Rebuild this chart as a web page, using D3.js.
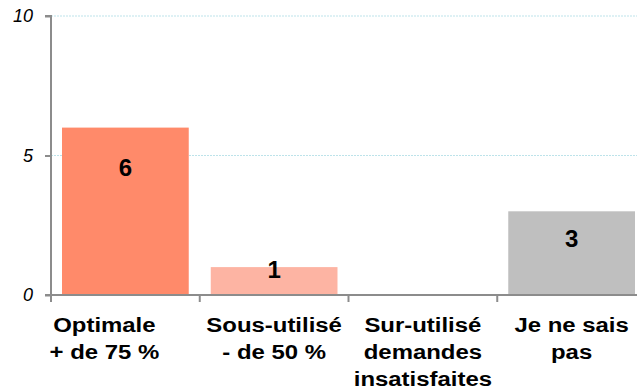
<!DOCTYPE html>
<html>
<head>
<meta charset="utf-8">
<script src="https://cdn.jsdelivr.net/npm/d3@7"></script>
<style>
  html, body { margin: 0; padding: 0; background: #fff; }
  svg { display: block; font-family: "Liberation Sans", Arial, sans-serif; }
</style>
</head>
<body>
<svg id="chart" width="637" height="390"></svg>
<script>
// Réponses par catégorie
const categories = [
  ["Optimale", "+ de 75 %"],
  ["Sous-utilisé", "- de 50 %"],
  ["Sur-utilisé", "demandes", "insatisfaites"],
  ["Je ne sais", "pas"]
];
const values = [6, 1, 0, 3];
const barColors = ["#FF8A6A", "#FDB4A3", "#FDB4A3", "#BFBFBF"];
const yTicks = [0, 5, 10];

const svg = d3.select("#chart");
const mLeft = 51, mRight = 646, mTop = 16, mBottom = 295;

const x = d3.scaleBand()
  .domain(d3.range(categories.length))
  .range([mLeft, mRight])
  .paddingInner(0.148)
  .paddingOuter(0.074);

const y = d3.scaleLinear().domain([0, 10]).range([mBottom, mTop]);

// Lignes de quadrillage
svg.append("g")
  .selectAll("line")
  .data(yTicks.filter(t => t > 0))
  .join("line")
  .attr("x1", mLeft).attr("x2", 637)
  .attr("y1", d => y(d)).attr("y2", d => y(d))
  .attr("stroke", "#BDE3EA")
  .attr("stroke-width", 1)
  .attr("stroke-dasharray", "2,1");

// Barres
svg.append("g")
  .selectAll("rect")
  .data(values)
  .join("rect")
  .attr("x", (d, i) => x(i))
  .attr("y", d => y(d))
  .attr("width", x.bandwidth())
  .attr("height", d => mBottom - y(d))
  .attr("fill", (d, i) => barColors[i]);

// Axe vertical
const yAxis = d3.axisLeft(y).tickValues(yTicks).tickSize(6).tickPadding(12);
const gy = svg.append("g").attr("transform", `translate(${mLeft},0)`).call(yAxis);
gy.select(".domain").attr("stroke", "#8C8C8C").attr("stroke-width", 2)
  .attr("d", `M-6,${mTop}H0V${mBottom}`);
gy.selectAll(".tick line").attr("stroke", "#8C8C8C").attr("stroke-width", 2);
gy.selectAll(".tick text")
  .attr("font-size", 18).attr("font-style", "italic")
  .attr("fill", "#000").attr("font-family", "Liberation Sans, Arial, sans-serif");

// Axe horizontal
const step = x.step();
const gx = svg.append("g");
gx.append("line")
  .attr("x1", mLeft - 6).attr("x2", 637)
  .attr("y1", mBottom).attr("y2", mBottom)
  .attr("stroke", "#8C8C8C").attr("stroke-width", 2);
gx.selectAll("line.tk")
  .data(d3.range(categories.length))
  .join("line")
  .attr("class", "tk")
  .attr("x1", i => x(i) - step * x.paddingInner() / 2)
  .attr("x2", i => x(i) - step * x.paddingInner() / 2)
  .attr("y1", mBottom).attr("y2", mBottom + 7)
  .attr("stroke", "#8C8C8C").attr("stroke-width", 2);

// Libellés de catégories (police large, étirée horizontalement ;
// le premier est décalé vers la gauche)
const labelShift = [-21, 0, 0, 0];
const catText = svg.append("g")
  .selectAll("text")
  .data(categories)
  .join("text")
  .attr("transform", (d, i) =>
    `translate(${x(i) + x.bandwidth() / 2 + labelShift[i]},332) scale(1.14,1)`)
  .attr("text-anchor", "middle")
  .attr("font-size", 21)
  .attr("font-weight", "bold")
  .attr("fill", "#000");
catText.selectAll("tspan")
  .data(d => d)
  .join("tspan")
  .attr("x", 0)
  .attr("dy", (d, i) => i === 0 ? 0 : 27)
  .text(d => d);

// Étiquettes de valeur
const labelDrop = [48.5, 11, 0, 36];
svg.append("g")
  .selectAll("text")
  .data(values.map((v, i) => ({ v, i })).filter(d => d.v > 0))
  .join("text")
  .attr("x", d => x(d.i) + x.bandwidth() / 2)
  .attr("y", d => y(d.v) + labelDrop[d.i])
  .attr("text-anchor", "middle")
  .attr("font-size", 24)
  .attr("font-weight", "bold")
  .attr("fill", "#000")
  .text(d => d.v);
</script>
</body>
</html>
